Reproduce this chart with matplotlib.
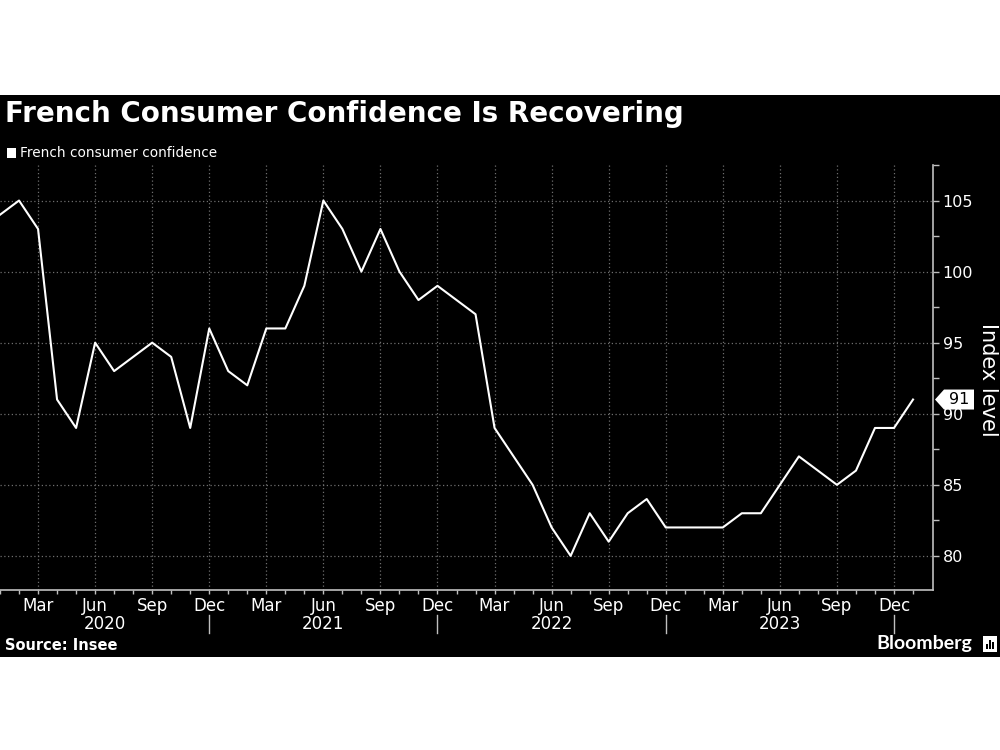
import matplotlib
matplotlib.use("Agg")
import matplotlib.pyplot as plt
import matplotlib.transforms as mtransforms
from matplotlib.patches import Rectangle, Polygon
from matplotlib.ticker import FixedLocator, MultipleLocator

# ---- data ----
start_year = 2020
values = [104, 105, 103, 91, 89, 95, 93, 94, 95, 94, 89, 96,
          93, 92, 96, 96, 99, 105, 103, 100, 103, 100, 98, 99,
          98, 97, 89, 87, 85, 82, 80, 83, 81, 83, 84, 82,
          82, 82, 82, 83, 83, 85, 87, 86, 85, 86, 89, 89,
          91]
month_names = ["Jan", "Feb", "Mar", "Apr", "May", "Jun",
               "Jul", "Aug", "Sep", "Oct", "Nov", "Dec"]
quarter_months = [2, 5, 8, 11]   # Mar, Jun, Sep, Dec (0-based)
years = [2020, 2021, 2022, 2023]
y_ticks = [80, 85, 90, 95, 100, 105]

title = "French Consumer Confidence Is Recovering"
legend_label = "French consumer confidence"
y_label = "Index level"
source = "Source: Insee"

FONT = "DejaVu Sans"
BG = "black"
FG = "white"
AXC = "#bfbfbf"
GRIDC = "#6e6e6e"
W, H = 1000, 750

fig = plt.figure(figsize=(10, 7.5), dpi=100, facecolor="white")
# black panel
fig.patches.append(Rectangle((0, 1 - 657 / H), 1, (657 - 95) / H,
                             transform=fig.transFigure, facecolor=BG,
                             edgecolor="none", zorder=-10))

ax = fig.add_axes([0.0, 1 - 590 / H, 0.933, (590 - 165) / H])
ax.set_facecolor(BG)
ax.set_zorder(2)

x = list(range(len(values)))
ax.plot(x, values, color=FG, lw=1.5, zorder=3, clip_on=False)

ax.set_xlim(0, 49.05)
ax.set_ylim(77.6, 107.5)

# spines
for s in ["top", "left"]:
    ax.spines[s].set_visible(False)
for s in ["bottom", "right"]:
    ax.spines[s].set_color(AXC)
    ax.spines[s].set_linewidth(1.2)

# y axis on right
ax.yaxis.tick_right()
ax.set_yticks(y_ticks)
ax.yaxis.set_minor_locator(MultipleLocator(2.5))
ax.tick_params(axis="y", which="both", colors=AXC, labelcolor=FG,
               direction="out", length=4, width=1, labelsize=11.5, pad=3)
for lbl in ax.get_yticklabels():
    lbl.set_fontfamily(FONT)
fig.text(988 / W, 1 - 380 / H, y_label, rotation=270, color=FG,
         fontsize=15, family=FONT, ha="center", va="center")

# x axis: monthly minor ticks, quarterly labels
n_months = len(values)
quarter_pos = [i for i in range(n_months) if i % 12 in quarter_months]
ax.set_xticks(quarter_pos)
ax.set_xticklabels([month_names[i % 12] for i in quarter_pos])
ax.xaxis.set_minor_locator(FixedLocator(list(range(n_months))))
ax.tick_params(axis="x", which="both", colors=AXC, labelcolor=FG,
               direction="out", length=3, width=1, labelsize=12, pad=2)
for lbl in ax.get_xticklabels():
    lbl.set_fontfamily(FONT)

# grid
ax.grid(True, which="major", color=GRIDC, linestyle=(0, (1, 2)), lw=0.9)
ax.set_axisbelow(True)

# year labels and separators
trans = mtransforms.blended_transform_factory(ax.transData, ax.transAxes)
dec_pos = [i for i in range(n_months) if i % 12 == 11]
bounds = [0] + dec_pos
for k, yr in enumerate(years):
    cx = (bounds[k] + bounds[k + 1]) / 2
    ax.text(cx, -0.081, str(yr), transform=trans, ha="center", va="center",
            color=FG, fontsize=12, family=FONT)
for d in dec_pos:
    ax.plot([d, d], [-0.059, -0.101], transform=trans, color=AXC, lw=1,
            clip_on=False)

# value tag (arrow-shaped label on the right axis)
last = values[-1]
ypix = ax.transData.transform((0, last))[1]
yf = ypix / H
hh = 10 / H
tip, body_l, body_r = 935 / W, 944 / W, 974 / W
tag = Polygon([(tip, yf), (body_l, yf + hh), (body_r, yf + hh),
               (body_r, yf - hh), (body_l, yf - hh)], closed=True,
              transform=fig.transFigure, facecolor="white",
              edgecolor="none", zorder=20)
fig.patches.append(tag)
fig.text((body_l + body_r) / 2, yf, f"{last}", color="black", fontsize=11.5,
         family=FONT, ha="center", va="center", zorder=21)

# title, legend, footer
fig.text(0.005, 1 - 114 / H, title, color=FG, fontsize=20,
         fontweight="bold", family=FONT, ha="left", va="center")
fig.patches.append(Rectangle((0.007, 1 - 158 / H), 0.009, 10 / H,
                             transform=fig.transFigure, facecolor=FG,
                             edgecolor="none"))
fig.text(0.02, 1 - 153 / H, legend_label, color=FG, fontsize=9.8,
         family=FONT, ha="left", va="center")
fig.text(0.005, 1 - 646 / H, source, color=FG, fontsize=10.5,
         fontweight="bold", family=FONT, ha="left", va="center")
fig.text(0.972, 1 - 644 / H, "Bloomberg", color=FG, fontsize=14,
         fontweight="bold", family=["Lato", "DejaVu Sans"], ha="right",
         va="center")
# small logo box
fig.patches.append(Rectangle((983 / W, 1 - 652 / H), 14 / W, 16 / H,
                             transform=fig.transFigure, facecolor=FG,
                             edgecolor="none"))
for bx, bh in [(986, 5), (989, 9), (992, 7)]:
    fig.patches.append(Rectangle((bx / W, 1 - 649 / H), 2 / W, bh / H,
                                 transform=fig.transFigure, facecolor=BG,
                                 edgecolor="none"))

fig.savefig("out.png", dpi=100, facecolor=fig.get_facecolor())
